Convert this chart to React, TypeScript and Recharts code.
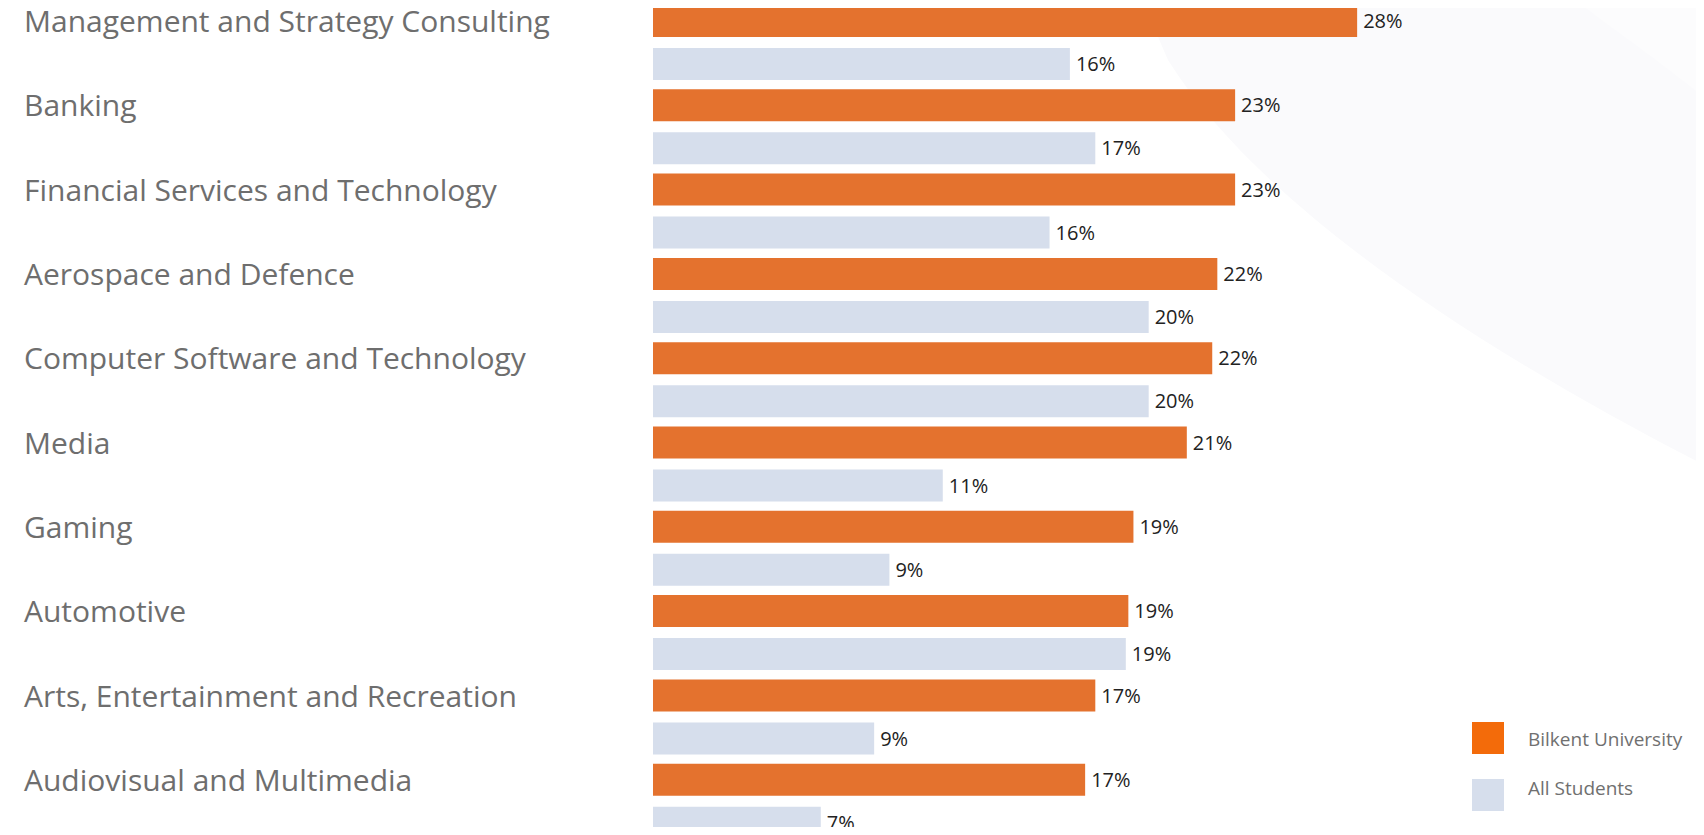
import React from 'react';
import { BarChart, Bar, XAxis, YAxis, LabelList } from 'recharts';

const categories = [
  'Management and Strategy Consulting',
  'Banking',
  'Financial Services and Technology',
  'Aerospace and Defence',
  'Computer Software and Technology',
  'Media',
  'Gaming',
  'Automotive',
  'Arts, Entertainment and Recreation',
  'Audiovisual and Multimedia',
];

const bilkentValues = [27.7, 22.9, 22.9, 22.2, 22.0, 21.0, 18.9, 18.7, 17.4, 17.0];
const allStudentsValues = [16.4, 17.4, 15.6, 19.5, 19.5, 11.4, 9.3, 18.6, 8.7, 6.6];

const seriesNames = ['Bilkent University', 'All Students'];
const barColors = ['#E4722E', '#D6DEEC'];
const legendColors = ['#F36B0A', '#D6DEEC'];

const data = categories.map((name, i) => ({
  name,
  bilkent: bilkentValues[i],
  all: allStudentsValues[i],
}));

const FONT = '"Open Sans", "Noto Sans", sans-serif';

const CategoryTick = (props: any) => {
  const { y, payload } = props;
  return (
    <text x={24} y={y - 10} fill="#6e6e6e" fontSize={30} fontFamily={FONT} textAnchor="start">
      {payload.value}
    </text>
  );
};

const fmt = (v: any) => `${Math.round(Number(v))}%`;

export default function App() {
  return (
    <div
      style={{
        position: 'relative',
        width: 1704,
        height: 835,
        margin: -8,
        overflow: 'hidden',
        background: '#ffffff',
      }}
    >
      <svg width={1704} height={835} style={{ position: 'absolute', left: 0, top: 0 }}>
        <path
          d="M 1140 0 L 1704 0 L 1704 465 C 1500 360, 1265 215, 1168 60 Q 1155 28 1140 0 Z"
          fill="#fafafc"
        />
        <path d="M 1575 0 L 1704 0 L 1704 97 C 1660 62, 1615 30, 1575 0 Z" fill="#fcfcfd" />
      </svg>
      <BarChart
        width={1704}
        height={843}
        data={data}
        layout="vertical"
        margin={{ top: 0, right: 34.2, bottom: 0, left: 0 }}
        barSize={32}
        barGap={11}
      >
        <XAxis type="number" domain={[0, 40]} hide />
        <YAxis
          type="category"
          dataKey="name"
          width={653}
          axisLine={false}
          tickLine={false}
          tick={<CategoryTick />}
          interval={0}
        />
        <Bar dataKey="bilkent" name={seriesNames[0]} fill={barColors[0]} isAnimationActive={false}>
          <LabelList
            dataKey="bilkent"
            position="right"
            offset={6}
            formatter={fmt}
            fill="#222222"
            fontSize={20}
            fontFamily={FONT}
          />
        </Bar>
        <Bar dataKey="all" name={seriesNames[1]} fill={barColors[1]} isAnimationActive={false}>
          <LabelList
            dataKey="all"
            position="right"
            offset={6}
            formatter={fmt}
            fill="#222222"
            fontSize={20}
            fontFamily={FONT}
          />
        </Bar>
      </BarChart>
      <div style={{ position: 'absolute', left: 1472, top: 722 }}>
        {seriesNames.map((n, i) => (
          <div key={n} style={{ width: 32, height: 32, marginBottom: 25, background: legendColors[i] }} />
        ))}
      </div>
      <div style={{ position: 'absolute', left: 1528, top: 715, fontFamily: FONT }}>
        {seriesNames.map((n) => (
          <div key={n} style={{ fontSize: 19, color: '#707070', lineHeight: '48.5px', height: 48.5, whiteSpace: 'nowrap' }}>
            {n}
          </div>
        ))}
      </div>
    </div>
  );
}
